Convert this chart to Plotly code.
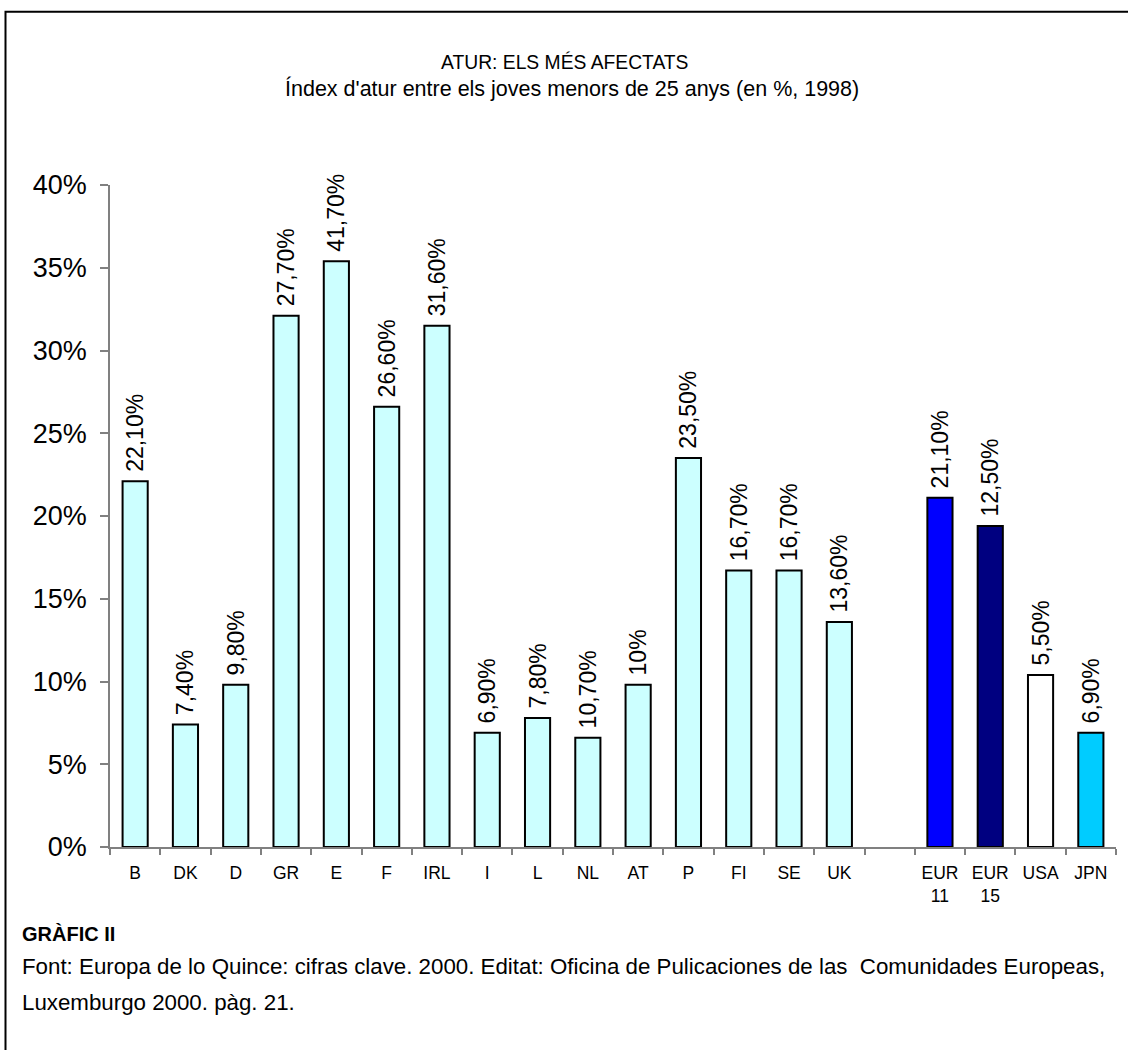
import plotly.graph_objects as go

# ---------------- data ----------------
categories = ["B", "DK", "D", "GR", "E", "F", "IRL", "I", "L", "NL", "AT", "P",
              "FI", "SE", "UK", " ", "EUR<br>11", "EUR<br>15", "USA", "JPN"]
bar_values = [22.1, 7.4, 9.8, 32.1, 35.4, 26.6, 31.5, 6.9, 7.8, 6.6, 9.8, 23.5,
              16.7, 16.7, 13.6, None, 21.1, 19.4, 10.4, 6.9]
value_labels = ["22,10%", "7,40%", "9,80%", "27,70%", "41,70%", "26,60%", "31,60%",
                "6,90%", "7,80%", "10,70%", "10%", "23,50%", "16,70%", "16,70%",
                "13,60%", "", "21,10%", "12,50%", "5,50%", "6,90%"]
y_ticks = [0, 5, 10, 15, 20, 25, 30, 35, 40]

title_text = "ATUR: ELS MÉS AFECTATS"
subtitle_text = "Índex d'atur entre els joves menors de 25 anys (en %, 1998)"
caption_title = "GRÀFIC II"
source_line1 = ("Font: Europa de lo Quince: cifras clave. 2000. Editat: Oficina de "
                "Pulicaciones de las  Comunidades Europeas,")
source_line2 = "Luxemburgo 2000. pàg. 21."

# ---------------- style ----------------
LIGHT = "#CCFFFF"
bar_colors = [LIGHT] * 15 + ["white", "#0000FF", "#000080", "#FFFFFF", "#00CCFF"]
FONT = "Arial, 'Liberation Sans', sans-serif"
AXIS_GREY = "#808080"

W, H = 1128, 1050
PL, PR, PT, PB = 110, 1116, 185, 847.5   # plot area in pixels


def px_x(x):
    return (x - PL) / (PR - PL)


def px_y(y):
    return (PB - y) / (PB - PT)


# small non-breaking gap between bar top and its rotated label
shown_labels = [("\u00a0" + t) if t else "" for t in value_labels]

fig = go.Figure()
fig.add_trace(go.Bar(
    x=categories,
    y=bar_values,
    text=shown_labels,
    textposition="outside",
    textangle=-90,
    constraintext="none",
    cliponaxis=False,
    textfont=dict(family=FONT, size=23, color="black"),
    marker=dict(color=bar_colors, line=dict(color="black", width=2)),
    hoverinfo="skip",
))

fig.update_layout(
    width=W, height=H,
    margin=dict(l=PL, r=W - PR, t=PT, b=H - PB, pad=0),
    paper_bgcolor="white", plot_bgcolor="white",
    bargap=0.5,
    showlegend=False,
    font=dict(family=FONT, color="black"),
)

fig.update_xaxes(
    type="category",
    categoryorder="array", categoryarray=categories,
    showline=True, linecolor=AXIS_GREY, linewidth=1.5,
    ticks="outside", tickson="boundaries", ticklen=6, tickcolor=AXIS_GREY, tickwidth=1.5,
    tickfont=dict(family=FONT, size=17.5, color="black"),
    showgrid=False, zeroline=False,
    ticklabelstandoff=9,
)
fig.update_yaxes(
    range=[0, 40],
    tickvals=y_ticks,
    ticktext=[f"{v}%" for v in y_ticks],
    showline=True, linecolor=AXIS_GREY, linewidth=1.5,
    ticks="outside", ticklen=8, tickcolor=AXIS_GREY, tickwidth=1.5,
    tickfont=dict(family=FONT, size=27, color="black"),
    showgrid=False, zeroline=False,
    ticklabelstandoff=8,
)

annots = [
    dict(text=title_text, x=px_x(564), y=px_y(62), size=19.3, anchor="center"),
    dict(text=subtitle_text, x=px_x(572), y=px_y(88), size=21.5, anchor="center"),
    dict(text="<b>" + caption_title + "</b>", x=px_x(20), y=px_y(935), size=20, anchor="left"),
    dict(text=source_line1, x=px_x(20), y=px_y(967), size=22.3, anchor="left"),
    dict(text=source_line2, x=px_x(20), y=px_y(1003), size=22.3, anchor="left"),
]
for a in annots:
    fig.add_annotation(
        text=a["text"], xref="paper", yref="paper", x=a["x"], y=a["y"],
        xanchor=a["anchor"], yanchor="middle", showarrow=False,
        font=dict(family=FONT, size=a["size"], color="black"),
    )

# outer frame (right and bottom edges fall outside the picture)
fig.add_shape(type="rect", xref="paper", yref="paper",
              x0=px_x(5.5), y0=px_y(1060), x1=px_x(1140), y1=px_y(11.5),
              line=dict(color="black", width=2), fillcolor="rgba(0,0,0,0)", layer="below")

fig.write_html("out.html", config={"displayModeBar": False},
               post_script="document.body.style.margin='0';")
